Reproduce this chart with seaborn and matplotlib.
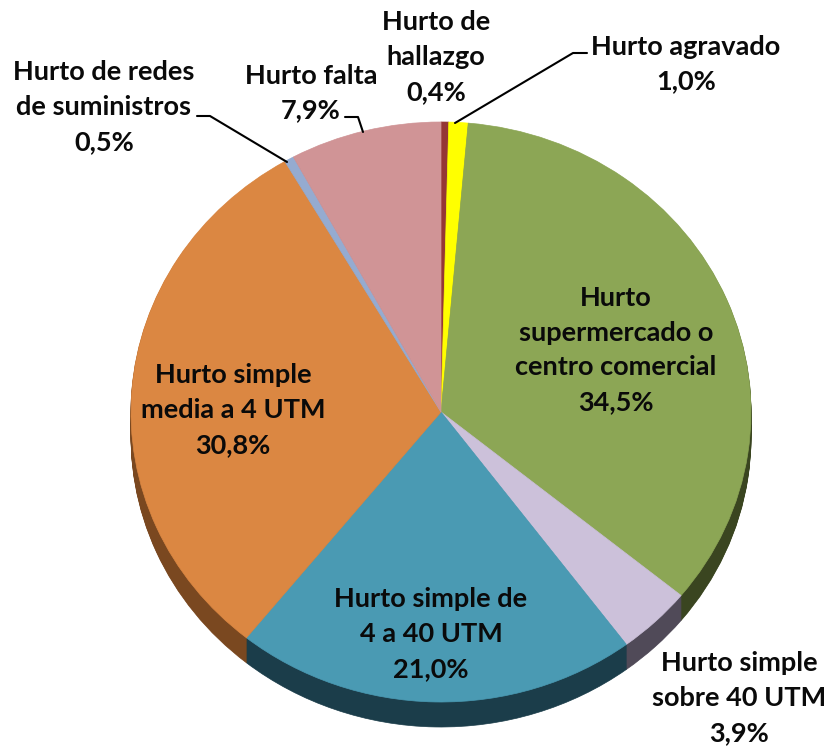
import matplotlib
matplotlib.use("Agg")
import matplotlib.pyplot as plt
from matplotlib.lines import Line2D
import seaborn as sns

# Data, clockwise from 12 o'clock
categories = ["Hurto de\nhallazgo", "Hurto agravado", "Hurto\nsupermercado o\ncentro comercial",
              "Hurto simple\nsobre 40 UTM", "Hurto simple de\n4 a 40 UTM", "Hurto simple\nmedia a 4 UTM",
              "Hurto de redes\nde suministros", "Hurto falta"]
values = [0.4, 1.0, 34.5, 3.9, 21.0, 30.8, 0.5, 7.9]
value_labels = ["0,4%", "1,0%", "34,5%", "3,9%", "21,0%", "30,8%", "0,5%", "7,9%"]
colors = ["#953735", "#FFFF00", "#8CA655", "#CCC1DA", "#4A9AB3", "#DB8742", "#95ABD0", "#D09496"]
dark_colors = ["#5A2020", "#8C8C00", "#3A4520", "#504A58", "#1B3D4A", "#7A4820", "#4F5F80", "#7A5050"]

# Label centres in pixels of the reference
label_pos = [(436, 57), (686, 64), (616, 350), (739, 698), (431, 634), (233, 410), (104, 107), (311, 93)]

W, H = 829, 748
cx, cy = 441, 412
rx, ry = 310, 290
depth = 25

sns.set_theme(style="white")
plt.rcParams['font.family'] = ['Lato', 'DejaVu Sans']

fig = plt.figure(figsize=(W / 100, H / 100), dpi=100)
ax = fig.add_axes([0, 0, 1, 1])


def draw_pie(palette, offset):
    wedges, _ = ax.pie(values, colors=sns.color_palette(palette), startangle=90, counterclock=False,
                       center=(0, -offset / ry), radius=1)
    # no white seams between the slices
    for w in wedges:
        w.set_edgecolor(w.get_facecolor())
        w.set_linewidth(0.5)


# Extruded side of the pie: dark copies stacked downwards
for d in range(depth, 0, -1):
    draw_pie(dark_colors, d)
draw_pie(colors, 0)

ax.set_aspect('auto')
ax.set_xlim(-cx / rx, (W - cx) / rx)
ax.set_ylim(-(H - cy) / ry, cy / ry)
ax.axis('off')

# Labels
for name, val, (px, py) in zip(categories, value_labels, label_pos):
    fig.text(px / W, 1 - py / H, name + "\n" + val, ha='center', va='center',
             fontsize=19.5, fontweight='bold', color='#0A0A0A', linespacing=1.54)

# Leader lines
leaders = [([455, 573, 587], [123, 53, 53]),
           ([287, 210, 197], [162, 116, 116]),
           ([363, 358, 345], [132, 117, 117])]
for xs, ys in leaders:
    fig.add_artist(Line2D([x / W for x in xs], [1 - y / H for y in ys], color='black', lw=1.5))

fig.savefig("out.png", dpi=100)
